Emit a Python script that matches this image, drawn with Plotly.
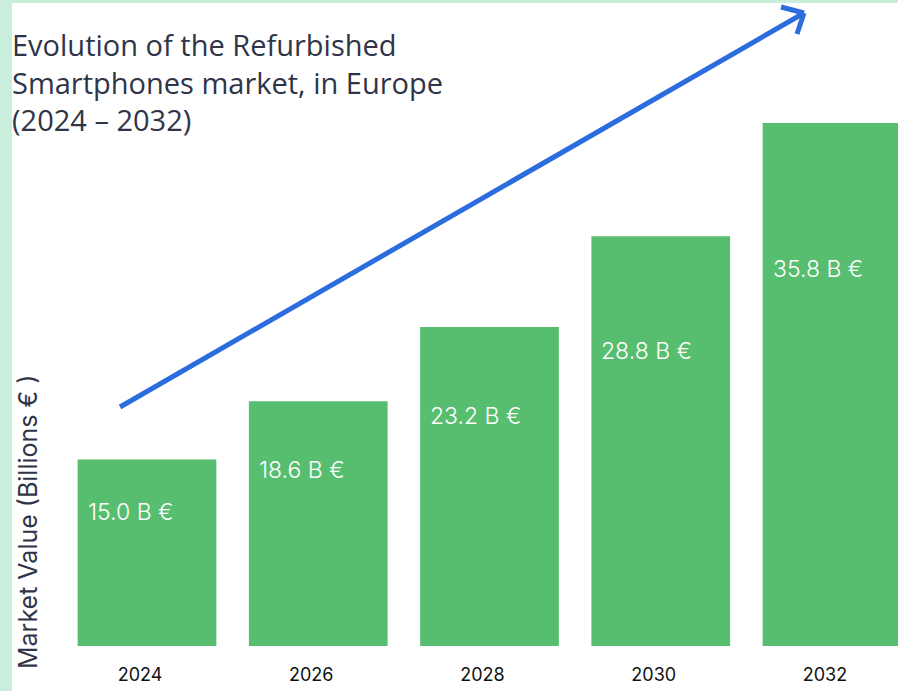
import plotly.graph_objects as go

years = ["2024", "2026", "2028", "2030", "2032"]
values = [15.0, 18.6, 23.2, 28.8, 35.8]
labels = [f"{v:.1f} B €" for v in values]
title_text = "Evolution of the Refurbished<br>Smartphones market, in Europe<br>(2024 – 2032)"
y_title = "Market Value (Billions € )"

W, H = 898, 691
ML, MR, MT, MB = 12, 0, 123, 45
PW, PH = W - ML - MR, H - MT - MB

def px(x):
    return (x - ML) / PW

def py(y):
    return (H - MB - y) / PH

BASE = 3.48
BAR_W = 0.81
idx = list(range(len(years)))

fig = go.Figure()
fig.add_trace(go.Bar(
    x=idx, y=values, width=BAR_W,
    marker=dict(color="#58be6f", line=dict(width=0)),
    hoverinfo="skip",
))

ann = []
for i, v, t in zip(idx, values, labels):
    ann.append(dict(
        x=i - BAR_W / 2, y=BASE + 0.72 * (v - BASE), xref="x", yref="y",
        xanchor="left", yanchor="middle", xshift=8,
        text=t, showarrow=False,
        font=dict(family="Inter", size=23, color="white", weight=300),
    ))

ann.append(dict(
    x=px(10), y=py(23), xref="paper", yref="paper",
    xanchor="left", yanchor="top", align="left", text=title_text, showarrow=False,
    font=dict(family="Open Sans", size=29, color="#2f3447"),
))

ann.append(dict(
    x=px(28), y=py(522), xref="paper", yref="paper",
    xanchor="center", yanchor="middle", text=y_title, textangle=-90,
    showarrow=False, font=dict(family="Inter", size=25, color="#2f3447"),
))

mint = "#c9eedc"
blue = "#2b6cde"
shapes = [
    dict(type="rect", xref="paper", yref="paper", x0=px(0), x1=px(12), y0=py(H), y1=py(0),
         fillcolor=mint, line=dict(width=0), layer="below"),
    dict(type="rect", xref="paper", yref="paper", x0=px(0), x1=px(W), y0=py(3), y1=py(0),
         fillcolor=mint, line=dict(width=0), layer="below"),
]
arrow_pts = [(120, 407), (804, 13)]
shapes.append(dict(type="line", xref="paper", yref="paper",
                   x0=px(arrow_pts[0][0]), y0=py(arrow_pts[0][1]),
                   x1=px(arrow_pts[1][0]), y1=py(arrow_pts[1][1]),
                   line=dict(color=blue, width=5)))
for ex, ey in [(781, 7), (797, 34)]:
    shapes.append(dict(type="line", xref="paper", yref="paper",
                       x0=px(ex), y0=py(ey), x1=px(arrow_pts[1][0]), y1=py(arrow_pts[1][1]),
                       line=dict(color=blue, width=5)))

fig.update_layout(
    width=W, height=H,
    margin=dict(l=ML, r=MR, t=MT, b=MB),
    paper_bgcolor="white", plot_bgcolor="white",
    showlegend=False,
    annotations=ann, shapes=shapes,
    xaxis=dict(
        range=[(ML - 147) / 171.25, (W - 147) / 171.25],
        tickmode="array", tickvals=idx, ticktext=years,
        showgrid=False, zeroline=False, showline=False,
        ticks="outside", ticklen=12, tickcolor="rgba(0,0,0,0)",
        ticklabelshift=-7,
        tickfont=dict(family="Inter", size=18, color="#111111"),
        fixedrange=True,
    ),
    yaxis=dict(range=[BASE, 35.8], visible=False, fixedrange=True),
)

fig.write_html("out.html", config={"displayModeBar": False},
               post_script="document.body.style.margin='0';document.body.style.overflow='hidden';")
